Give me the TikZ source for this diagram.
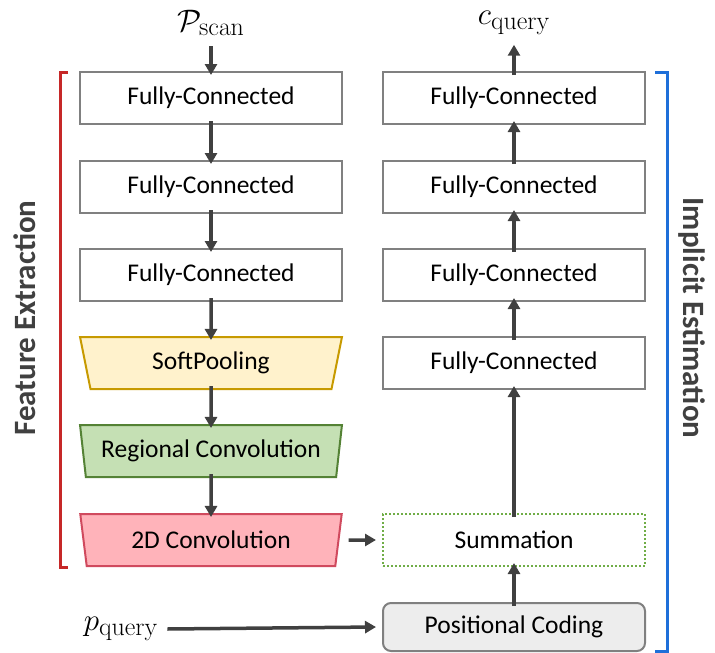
\documentclass[tikz,border=0pt]{standalone}
\usepackage[no-math]{fontspec}
\setmainfont{Carlito}
\usepackage{graphicx}
\usepackage{tikz}
\usetikzlibrary{shapes.geometric,arrows.meta}
\definecolor{boxc}{HTML}{808080}
\definecolor{arrowc}{HTML}{404040}
\definecolor{poolc}{HTML}{FFF2CC}
\definecolor{pooldc}{HTML}{C79A00}
\definecolor{regc}{HTML}{C5E0B4}
\definecolor{regdc}{HTML}{548235}
\definecolor{convc}{HTML}{FFB3BA}
\definecolor{convdc}{HTML}{D04A5E}
\definecolor{sumc}{HTML}{70AD47}
\definecolor{posc}{HTML}{EDEDED}
\definecolor{featc}{HTML}{C62828}
\definecolor{implc}{HTML}{1E6FD9}
\newcommand{\bigmath}[1]{\scalebox{1.25}{\fontsize{24.88}{30}\selectfont$#1$}}
\tikzset{
  layer/.style={draw=boxc, line width=2pt, minimum width=262pt, minimum height=52pt, inner sep=0pt, font=\fontsize{25.5}{30}\selectfont},
  trap/.style={layer, trapezium, shape border rotate=180, trapezium left angle=77, trapezium right angle=77, trapezium stretches=true},
  flow/.style={draw=arrowc, line width=3.5pt, -{Triangle[length=11pt,width=12pt]}},
  side/.style={line width=3pt, line cap=butt},
  sidelabel/.style={font=\fontsize{31}{36}\selectfont\bfseries, text=arrowc},
  mathlabel/.style={inner sep=0pt},
}

\begin{document}
\begin{tikzpicture}[x=1pt,y=-1pt]
\useasboundingbox (0,0) rectangle (715,653);
% feature extraction
\node[mathlabel] (pscan) at (211,23) {\bigmath{\mathcal{P}_{\mathrm{scan}}}};
\node[layer] (fe1) at (211,98) {Fully-Connected};
\node[layer] (fe2) at (211,187) {Fully-Connected};
\node[layer] (fe3) at (211,275) {Fully-Connected};
\node[trap, fill=poolc, draw=pooldc] (pool) at (211,363) {SoftPooling};
\node[trap, fill=regc, draw=regdc] (regconv) at (211,451) {Regional Convolution};
\node[trap, fill=convc, draw=convdc] (conv) at (211,540) {2D Convolution};
% implicit estimation
\node[mathlabel] (cquery) at (514,23) {\bigmath{c_{\mathrm{query}}}};
\node[layer] (ie4) at (514,98) {Fully-Connected};
\node[layer] (ie3) at (514,187) {Fully-Connected};
\node[layer] (ie2) at (514,275) {Fully-Connected};
\node[layer] (ie1) at (514,363) {Fully-Connected};
\node[layer, draw=sumc, dotted] (sum) at (514,540) {Summation};
\node[layer, fill=posc, rounded corners=8pt, minimum height=48pt] (pos) at (514,627) {Positional Coding};
\node[mathlabel] (pquery) at (121,629) {\bigmath{p_{\mathrm{query}}}};

\draw[flow] ([yshift=-10pt]pscan.south) -- ([yshift=-4pt]fe1.north);
\draw[flow] ([yshift=4pt]fe1.south) -- ([yshift=-4pt]fe2.north);
\draw[flow] ([yshift=4pt]fe2.south) -- ([yshift=-4pt]fe3.north);
\draw[flow] ([yshift=4pt]fe3.south) -- ([yshift=-4pt]pool.north);
\draw[flow] ([yshift=4pt]pool.south) -- ([yshift=-4pt]regconv.north);
\draw[flow] ([yshift=4pt]regconv.south) -- ([yshift=-4pt]conv.north);
\draw[flow] ([xshift=9pt]conv.east) -- ([xshift=-6pt]sum.west);
\draw[flow] ([xshift=9pt]pquery.east) -- ([xshift=-6pt]pos.west);
\draw[flow] ([yshift=-4pt]pos.north) -- ([yshift=4pt]sum.south);
\draw[flow] ([yshift=-4pt]sum.north) -- ([yshift=4pt]ie1.south);
\draw[flow] ([yshift=-4pt]ie1.north) -- ([yshift=4pt]ie2.south);
\draw[flow] ([yshift=-4pt]ie2.north) -- ([yshift=4pt]ie3.south);
\draw[flow] ([yshift=-4pt]ie3.north) -- ([yshift=4pt]ie4.south);
\draw[flow] ([yshift=-4pt]ie4.north) -- ([yshift=-10pt]cquery.south);

% brackets
\draw[side, draw=featc] (68,72) -| (60,567) -- (68,567);
\draw[side, draw=implc] (655,72) -| (667,651) -- (655,651);
\node[sidelabel, rotate=90] (featlabel) at (25,318) {Feature Extraction};
\node[sidelabel, rotate=-90] (impllabel) at (692,318) {Implicit Estimation};
\end{tikzpicture}
\end{document}
